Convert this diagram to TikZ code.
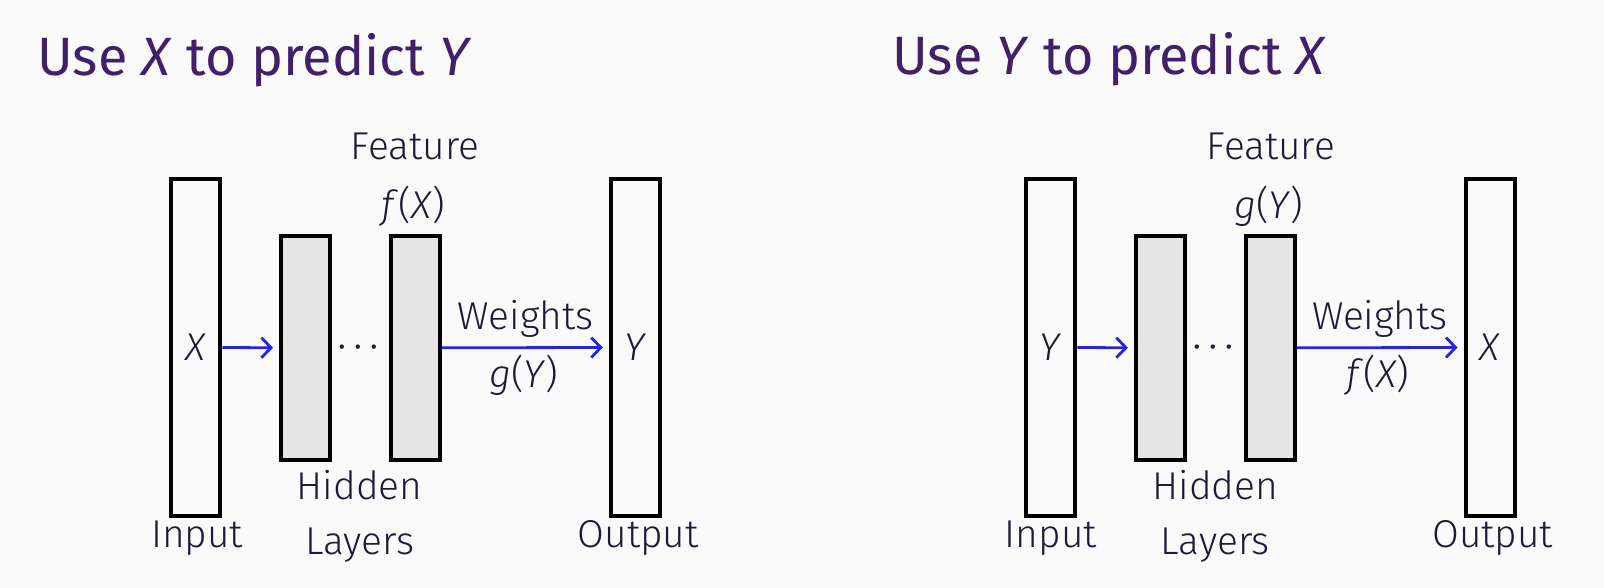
\documentclass[tikz,border=0pt]{standalone}
\usepackage{fontspec}
\setmainfont{Fira Sans}
\newfontfamily\labelfont{Fira Sans Light}
\usetikzlibrary{arrows.meta}
\definecolor{ttlpurple}{RGB}{64,32,104}
\definecolor{lbltext}{RGB}{30,25,55}
\definecolor{flowblue}{RGB}{35,35,225}
\definecolor{hidfill}{RGB}{229,229,229}
\definecolor{pagebg}{RGB}{250,250,250}
\begin{document}
\begin{tikzpicture}[x=0.5pt,y=-0.5pt,
  box/.style={draw=black, line width=2pt, minimum width=24.5pt, minimum height=168.5pt,
    inner sep=0pt, text=lbltext, font=\labelfont\fontsize{19.4}{23}\selectfont},
  hidden/.style={box, fill=hidfill, minimum height=111.7pt},
  lbl/.style={anchor=base, inner sep=0pt, text=lbltext, font=\labelfont\fontsize{19.4}{23}\selectfont},
  ttl/.style={anchor=base west, inner sep=0pt, text=ttlpurple, font=\fontsize{27}{33}\selectfont},
  flow/.style={draw=flowblue, line width=1.4pt, -{Straight Barb[length=4.8pt,width=10pt]}, shorten >=3pt}]
\fill [pagebg] (0,0) rectangle (1604,588);
\useasboundingbox (0,0) rectangle (1604,588);
% left: X -> Y
\node [ttl] (titleL) at (37,76) {Use \textit{X} to predict \textit{Y}};
\node [box] (inL) at (195.8,347.5) {\textit{X}};
\node [hidden] (hidL1) at (305.5,347.8) {};
\node [hidden] (hidL2) at (415.5,347.8) {};
\node [box] (outL) at (635.3,347.5) {\textit{Y}};
\node [lbl, anchor=center] (dotsL) at (357.9,347.8) {$\cdot$\hspace{2.3pt}$\cdot$\hspace{2.3pt}$\cdot$};
\node [lbl] (featL) at (415,160) {Feature};
\node [lbl] (fxL) at (413.2,219) {\textit{f}(\textit{X})};
\node [lbl] (wL) at (525.7,329) {Weights};
\node [lbl] (gyL) at (523.9,387) {\textit{g}(\textit{Y})};
\node [lbl] (hidtxtL) at (359.6,499) {Hidden};
\node [lbl] (laytxtL) at (359.6,554.3) {Layers};
\node [lbl] (intxtL) at (197.1,547.7) {Input};
\node [lbl] (outtxtL) at (638.2,547.7) {Output};
\draw [flow] (inL.east) -- (hidL1.west);
\draw [flow] (hidL2.east) -- (outL.west);
% right: Y -> X
\node [ttl] (titleR) at (892,75) {Use \textit{Y} to predict \textit{X}};
\node [box] (inR) at (1050.8,347.5) {\textit{Y}};
\node [hidden] (hidR1) at (1160.4,347.8) {};
\node [hidden] (hidR2) at (1270.4,347.8) {};
\node [box] (outR) at (1490,347.5) {\textit{X}};
\node [lbl, anchor=center] (dotsR) at (1213.4,347.8) {$\cdot$\hspace{2.3pt}$\cdot$\hspace{2.3pt}$\cdot$};
\node [lbl] (featR) at (1270.8,160) {Feature};
\node [lbl] (gyR) at (1268.9,219) {\textit{g}(\textit{Y})};
\node [lbl] (wR) at (1379.9,329) {Weights};
\node [lbl] (fxR) at (1378,387) {\textit{f}(\textit{X})};
\node [lbl] (hidtxtR) at (1215.3,499) {Hidden};
\node [lbl] (laytxtR) at (1215.3,554.3) {Layers};
\node [lbl] (intxtR) at (1050.8,547.7) {Input};
\node [lbl] (outtxtR) at (1492.8,547.7) {Output};
\draw [flow] (inR.east) -- (hidR1.west);
\draw [flow] (hidR2.east) -- (outR.west);
\end{tikzpicture}
\end{document}
